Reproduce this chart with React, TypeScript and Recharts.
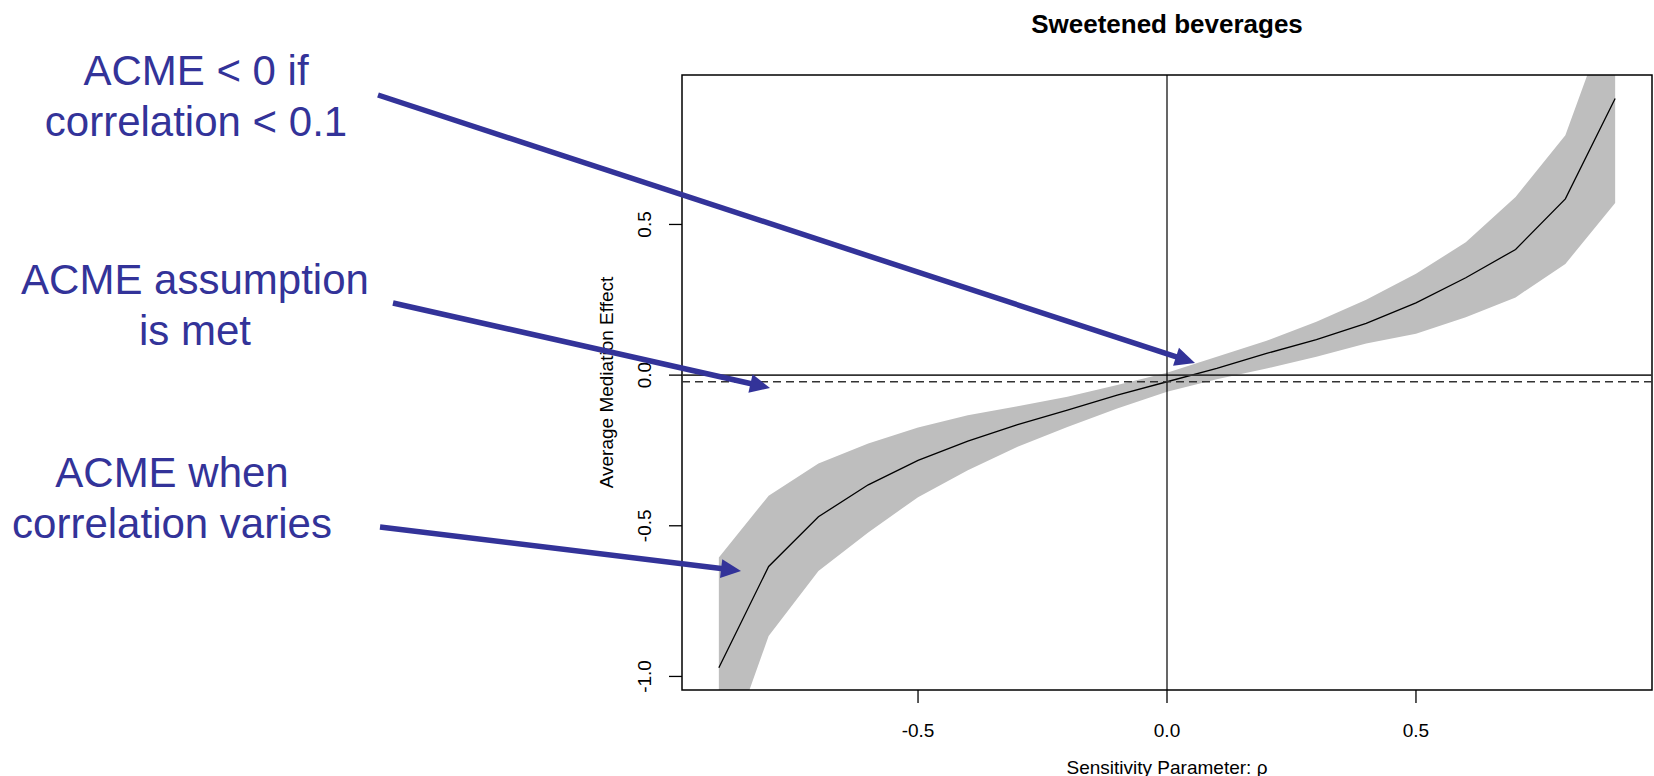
import React from "react";
import {
  ComposedChart,
  Area,
  Line,
  XAxis,
  YAxis,
  ReferenceLine,
  ReferenceArea,
  Label,
} from "recharts";

// sensitivity parameter rho and the ACME with its confidence band
const rho = [-0.9, -0.8, -0.7, -0.6, -0.5, -0.4, -0.3, -0.2, -0.1, 0, 0.1, 0.2, 0.3, 0.4, 0.5, 0.6, 0.7, 0.8, 0.9];
const acme = [-0.971, -0.635, -0.47, -0.364, -0.283, -0.219, -0.164, -0.116, -0.066, -0.022, 0.022, 0.072, 0.118, 0.172, 0.24, 0.323, 0.417, 0.585, 0.918];
const ciLower = [-1.33, -0.866, -0.65, -0.522, -0.405, -0.316, -0.238, -0.172, -0.111, -0.055, -0.014, 0.022, 0.061, 0.105, 0.137, 0.192, 0.258, 0.369, 0.571];
const ciUpper = [-0.605, -0.4, -0.293, -0.227, -0.174, -0.133, -0.103, -0.072, -0.033, 0.008, 0.061, 0.114, 0.177, 0.25, 0.336, 0.441, 0.591, 0.796, 1.25];

const xTicks = [-0.5, 0, 0.5];
const yTicks = [-1, -0.5, 0, 0.5];
const xDomain = [-0.974, 0.974];
const yDomain = [-1.045, 0.996];

const title = "Sweetened beverages";
const xTitle = "Sensitivity Parameter: \u03c1";
const yTitle = "Average Mediation Effect";

// ACME estimate at rho = 0 (dashed line)
const acmeAtZero = acme[rho.indexOf(0)];

const notes = [
  { lines: ["ACME < 0 if", "correlation < 0.1"], x: 196, y: 85, from: [378, 95], to: [1195, 363] },
  { lines: ["ACME assumption", "is met"], x: 195, y: 294, from: [393, 303], to: [770, 388] },
  { lines: ["ACME when", "correlation varies"], x: 172, y: 487, from: [380, 527], to: [741, 571] },
];

const data = rho.map((r, i) => ({ rho: r, acme: acme[i], band: [ciLower[i], ciUpper[i]] }));

const FONT = "'Liberation Sans', Arial, sans-serif";
const BLUE = "#333399";

const XTick = ({ x, y, payload }: any) => (
  <text x={x} y={y + 27} textAnchor="middle" dominantBaseline="central" fontSize={19} fontFamily={FONT} fill="#000">
    {payload.value.toFixed(1)}
  </text>
);

const YTick = ({ x, y, payload }: any) => (
  <text
    x={x - 24}
    y={y}
    transform={`rotate(-90, ${x - 24}, ${y})`}
    textAnchor="middle"
    dominantBaseline="central"
    fontSize={19}
    fontFamily={FONT}
    fill="#000"
  >
    {payload.value.toFixed(1)}
  </text>
);

const arrow = (from: number[], to: number[], key: number) => {
  const [x1, y1] = from;
  const [x2, y2] = to;
  const len = Math.hypot(x2 - x1, y2 - y1);
  const ux = (x2 - x1) / len;
  const uy = (y2 - y1) / len;
  const hl = 20;
  const hw = 9.5;
  const bx = x2 - ux * hl;
  const by = y2 - uy * hl;
  return (
    <g key={key}>
      <line x1={x1} y1={y1} x2={bx + ux * 2} y2={by + uy * 2} stroke={BLUE} strokeWidth={5.5} />
      <polygon
        points={`${x2},${y2} ${bx - uy * hw},${by + ux * hw} ${bx + uy * hw},${by - ux * hw}`}
        fill={BLUE}
      />
    </g>
  );
};

export default function App() {
  return (
    <div style={{ position: "absolute", left: 0, top: 0, width: 1654, height: 776, background: "#fff" }}>
      <ComposedChart width={1654} height={776} data={data} margin={{ top: 75, right: 2, bottom: 0, left: 0 }}>
        <XAxis
          dataKey="rho"
          type="number"
          domain={xDomain}
          allowDataOverflow
          ticks={xTicks}
          tick={<XTick />}
          tickSize={13}
          tickMargin={0}
          tickLine={{ stroke: "#000", strokeWidth: 1.3 }}
          axisLine={false}
          height={86}
        >
          <Label
            content={({ viewBox }: any) => (
              <text
                x={viewBox.x + viewBox.width / 2}
                y={viewBox.y + 77}
                textAnchor="middle"
                dominantBaseline="central"
                fontSize={19}
                fontFamily={FONT}
                fill="#000"
              >
                {xTitle}
              </text>
            )}
          />
        </XAxis>
        <YAxis
          type="number"
          domain={yDomain}
          allowDataOverflow
          ticks={yTicks}
          tick={<YTick />}
          tickSize={13}
          tickMargin={0}
          tickLine={{ stroke: "#000", strokeWidth: 1.3 }}
          axisLine={false}
          width={682}
        >
          <Label
            content={({ viewBox }: any) => {
              const cx = viewBox.x + viewBox.width - 76;
              const cy = viewBox.y + viewBox.height / 2;
              return (
                <text
                  x={cx}
                  y={cy}
                  transform={`rotate(-90, ${cx}, ${cy})`}
                  textAnchor="middle"
                  dominantBaseline="central"
                  fontSize={19}
                  fontFamily={FONT}
                  fill="#000"
                >
                  {yTitle}
                </text>
              );
            }}
          />
        </YAxis>
        <Area
          dataKey="band"
          type="linear"
          stroke="none"
          fill="#bebebe"
          fillOpacity={1}
          isAnimationActive={false}
        />
        <Line
          dataKey="acme"
          type="linear"
          stroke="#000"
          strokeWidth={1.3}
          dot={false}
          activeDot={false}
          isAnimationActive={false}
        />
        <ReferenceLine y={0} stroke="#333" strokeWidth={1.6} />
        <ReferenceLine x={0} stroke="#000" strokeWidth={1.2} />
        <ReferenceLine y={acmeAtZero} stroke="#333" strokeWidth={1.4} strokeDasharray="8 5" />
        <ReferenceArea
          x1={xDomain[0]}
          x2={xDomain[1]}
          y1={yDomain[0]}
          y2={yDomain[1]}
          fill="none"
          stroke="#000"
          strokeWidth={1.5}
          fillOpacity={0}
        />
      </ComposedChart>
      <svg width={1654} height={776} style={{ position: "absolute", left: 0, top: 0, pointerEvents: "none" }}>
        <text x={1167} y={33} textAnchor="middle" fontSize={26} fontWeight="bold" fontFamily={FONT} fill="#000">
          {title}
        </text>
        {notes.map((n, i) => (
          <text key={i} textAnchor="middle" fontSize={42} fontFamily={FONT} fill={BLUE}>
            {n.lines.map((l, j) => (
              <tspan key={j} x={n.x} y={n.y + j * 51}>
                {l}
              </tspan>
            ))}
          </text>
        ))}
        {notes.map((n, i) => arrow(n.from, n.to, i))}
      </svg>
    </div>
  );
}
